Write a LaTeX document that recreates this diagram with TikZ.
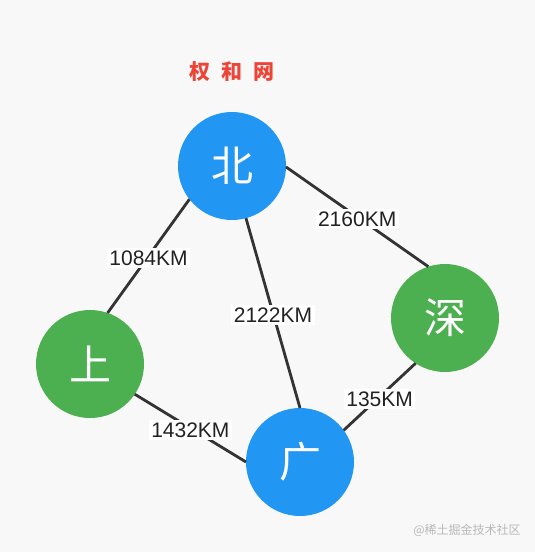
\documentclass[tikz,border=0pt]{standalone}
\usepackage{fontspec}
\setmainfont{Liberation Sans}
\newfontfamily\cjk{Noto Sans CJK SC}
\usepackage{tikz}

\definecolor{cityblue}{HTML}{2196F3}
\definecolor{citygreen}{HTML}{4CAF50}
\definecolor{titlered}{HTML}{EE4438}
\definecolor{roadgray}{HTML}{333333}
\definecolor{inkgray}{HTML}{222222}
\definecolor{paper}{HTML}{F8F8F8}

\begin{document}
\begin{tikzpicture}[x=1pt,y=-1pt,
    city/.style={circle,minimum size=108pt,inner sep=0pt,outer sep=0pt,text=white,font=\cjk\fontsize{42}{46}\selectfont},
    road/.style={line width=2.8pt,roadgray},
    dist/.style={fill=white,inner sep=2.5pt,yshift=-2pt,text=inkgray,font=\fontsize{21}{24}\selectfont}]
  %background
  \fill[paper] (0,0) rectangle (535,552);
  \useasboundingbox (0,0) rectangle (535,552);

  %title
  \node[at={(232,72)},text=titlered,font=\cjk\bfseries\fontsize{21}{26}\selectfont] (title) {权\hspace{11pt}和\hspace{11pt}网};

  %cities
  \node[city,fill=cityblue] (bei) at (232,166) {北};
  \node[city,fill=citygreen] (shang) at (90,364) {上};
  \node[city,fill=citygreen] (shen) at (445,318) {深};
  \node[city,fill=cityblue] (guang) at (300,462) {广};

  %roads
  \draw[road] (bei.218.8) -- node[dist] {1084KM} (shang.71.2);
  \draw[road] (bei.285.4) -- node[dist] {2122KM} (guang.90);
  \draw[road] (bei.-1) -- node[dist] {2160KM} (shen.108.9);
  \draw[road] (shang.-34.5) -- node[dist] {1432KM} (guang.180);
  \draw[road] (shen.237.7) -- node[dist] {135KM} (guang.36.1);

  %watermark
  \node[at={(467,530)},text=black!28,font=\cjk\fontsize{12}{14}\selectfont] (mark) {@稀土掘金技术社区};
\end{tikzpicture}
\end{document}
